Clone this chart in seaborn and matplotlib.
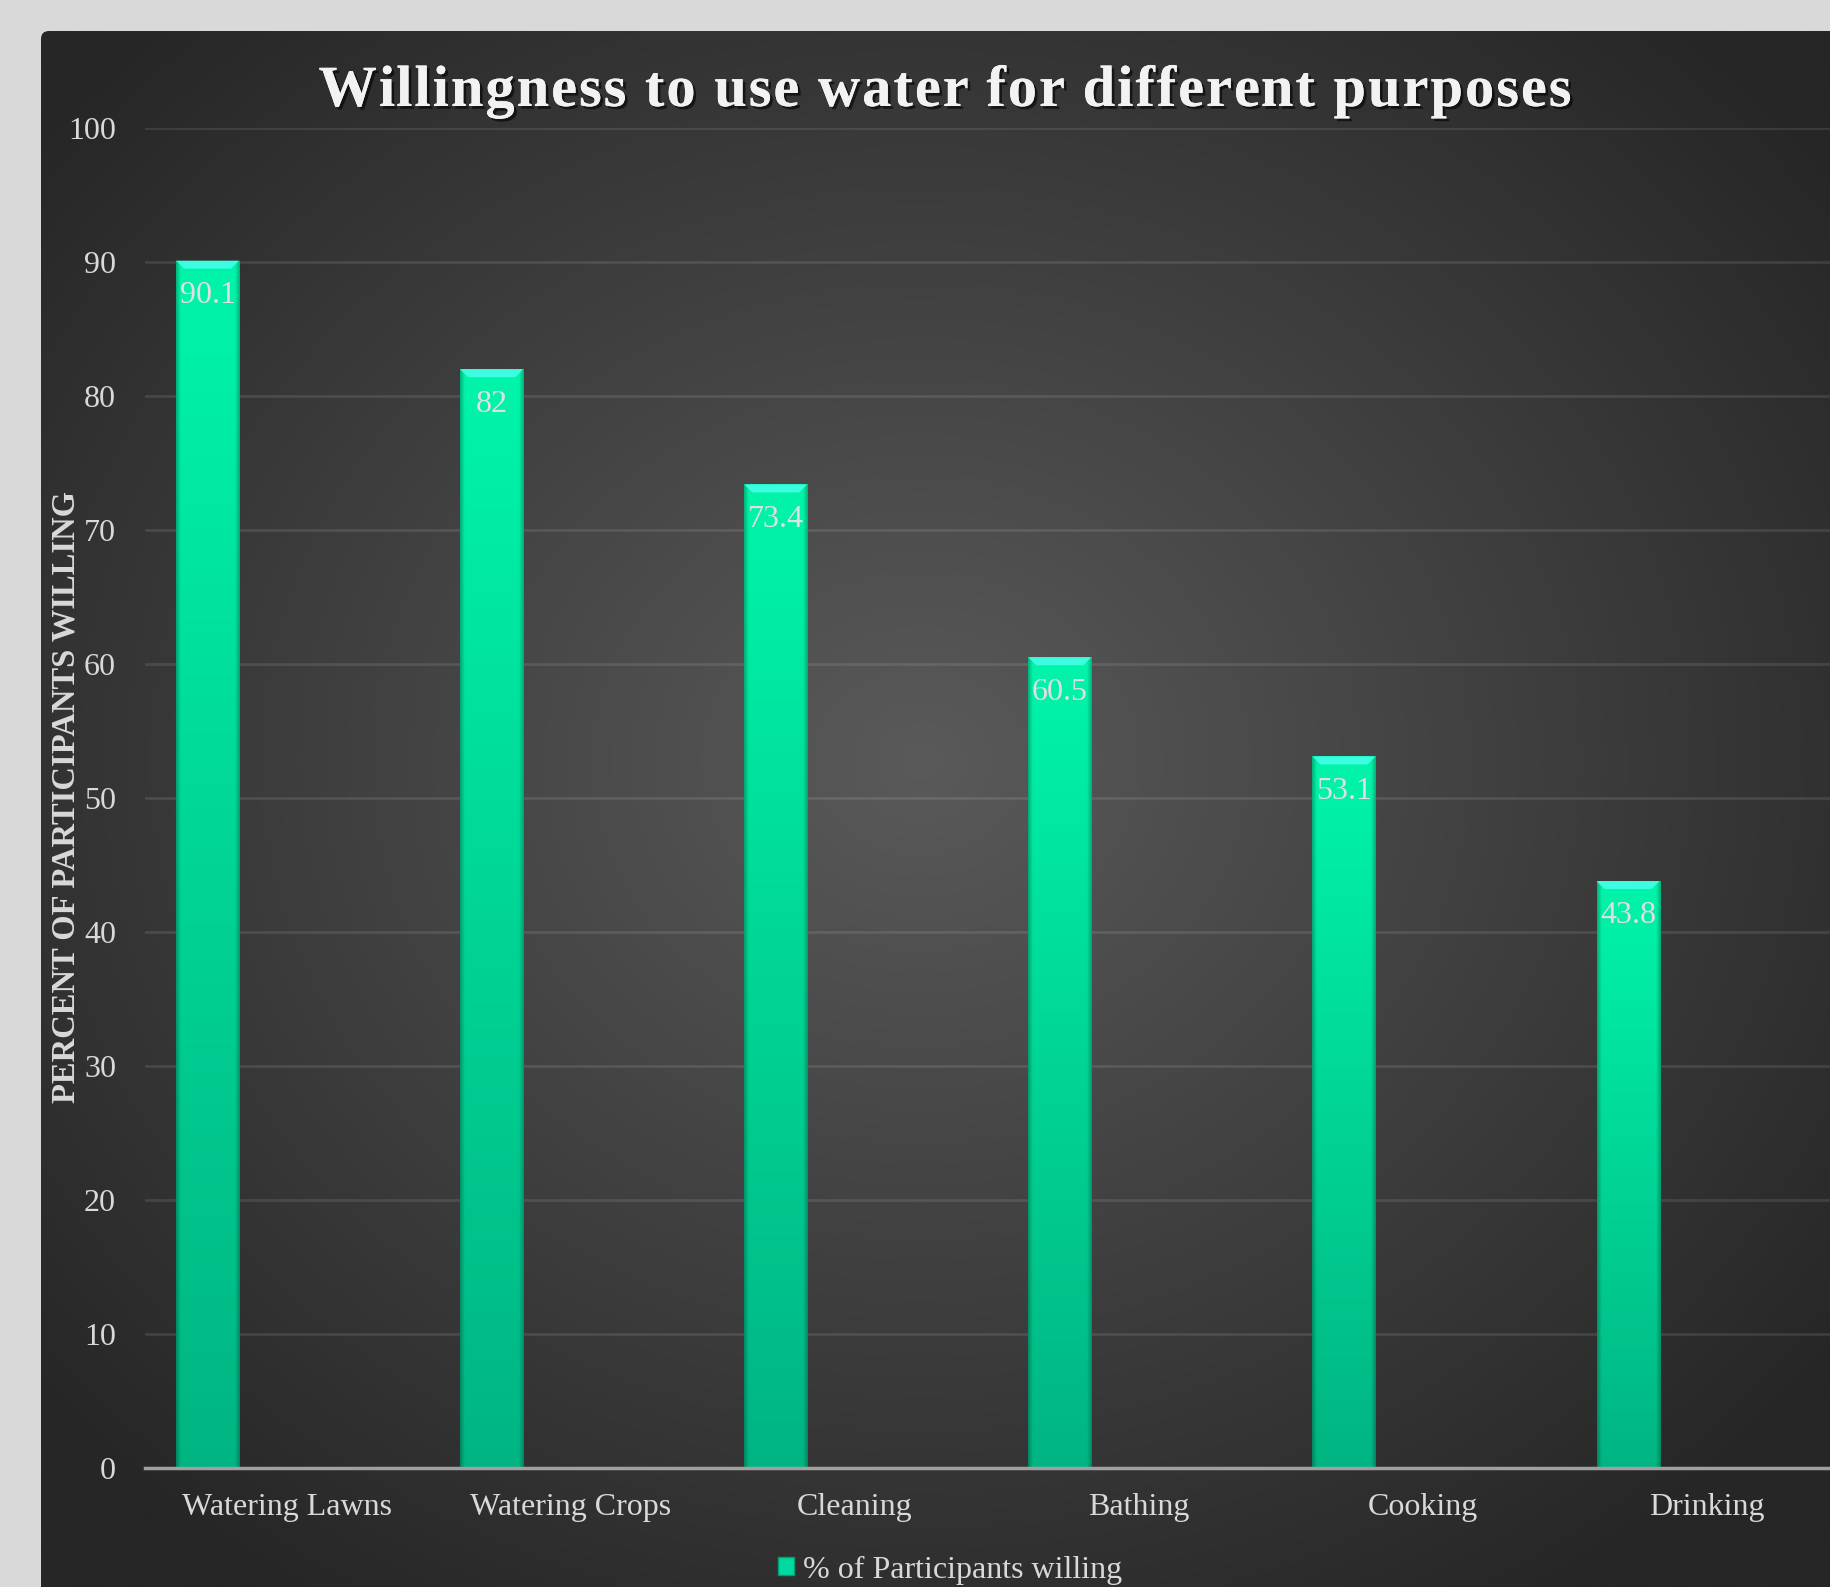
import numpy as np
import pandas as pd
import matplotlib
matplotlib.use('Agg')
import matplotlib.pyplot as plt
import seaborn as sns
from matplotlib.patches import FancyBboxPatch, Polygon, Rectangle
from matplotlib.font_manager import FontProperties
import matplotlib.patheffects as pe

# data
purposes = ['Watering Lawns', 'Watering Crops', 'Cleaning', 'Bathing', 'Cooking', 'Drinking']
willing = [90.1, 82, 73.4, 60.5, 53.1, 43.8]
value_labels = ['90.1', '82', '73.4', '60.5', '53.1', '43.8']
series_name = '% of Participants willing'
y_ticks = list(range(0, 101, 10))
title = 'Willingness to use water for different purposes'

df = pd.DataFrame({'purpose': purposes, 'willing': willing})

sns.set_style('dark')
plt.rcParams['font.family'] = ['Liberation Serif', 'DejaVu Serif']

W, H = 1830, 1587
fig = plt.figure(figsize=(W / 100, H / 100), dpi=100, facecolor='#d9d9d9')

# dark chart panel with radial gradient
bg = fig.add_axes([0, 0, 1, 1], zorder=-5)
bg.set_xlim(0, W)
bg.set_ylim(H, 0)
bg.axis('off')
yy, xx = np.mgrid[0:H:4, 0:W:4]
r = np.sqrt(((xx - 920) / 1150.0) ** 2 + ((yy - 760) / 1000.0) ** 2)
r = np.clip(r, 0, 1)
c0, c1 = np.array([0x5a, 0x5a, 0x5a]) / 255, np.array([0x26, 0x26, 0x26]) / 255
img = c0[None, None, :] * (1 - r[..., None]) + c1[None, None, :] * r[..., None]
panel = FancyBboxPatch((41, 31), 2000, 2000, boxstyle='round,pad=0,rounding_size=8',
                       transform=bg.transData, facecolor='none', edgecolor='none')
bg.add_patch(panel)
im = bg.imshow(img, extent=[0, W, H, 0], aspect='auto', interpolation='bilinear')
im.set_clip_path(panel)

# main axes
ax = fig.add_axes([144.5 / W, 119 / H, 1704.6 / W, 1340 / H])
ax.set_facecolor('none')

bar_w = 0.222
shift = -0.278
sns.barplot(data=df, x='purpose', y='willing', ax=ax, width=bar_w, color='#00e0a0',
            saturation=1, zorder=3, legend=False)

ax.set_xlim(-0.5, len(purposes) - 0.5)
ax.set_ylim(0, 100)

# vertical gradient for bars
grad_y = np.linspace(0, 1, 256)[:, None]
top_c = np.array([0x00, 0xf5, 0xaa]) / 255
bot_c = np.array([0x00, 0xb5, 0x82]) / 255
gx = np.linspace(0, 1, 64)[None, :]
edge = 1 - 0.25 * (np.clip(1 - np.minimum(gx, 1 - gx) / 0.07, 0, 1))
bar_img = (top_c[None, None, :] * (1 - grad_y[..., None]) + bot_c[None, None, :] * grad_y[..., None])
bar_img = bar_img * edge[..., None]

bev_y = 8 / 13.4
bev_x = 8 / 284.0
for p, v, lab in zip(ax.patches, willing, value_labels):
    p.set_x(p.get_x() + shift)
    x0, w = p.get_x(), p.get_width()
    p.set_facecolor('none')
    p.set_edgecolor('none')
    bi = ax.imshow(bar_img, extent=[x0, x0 + w, 0, v], aspect='auto', zorder=3,
                   interpolation='bilinear')
    bi.set_clip_path(p)
    # top bevel
    ax.add_patch(Polygon([[x0, v], [x0 + w, v], [x0 + w - bev_x, v - bev_y], [x0 + bev_x, v - bev_y]],
                         closed=True, facecolor='#3dfde0', edgecolor='none', zorder=4))
    ax.text(x0 + w / 2, v - 2.6, lab, ha='center', va='center', fontsize=23,
            color='#e0e0e0', zorder=5)

ax.set_yticks(y_ticks)
ax.set_yticklabels([str(t) for t in y_ticks])
ax.tick_params(axis='y', length=0, pad=20.5, labelsize=23, labelcolor='#d9d9d9')
ax.tick_params(axis='x', length=0, pad=18, labelsize=23, labelcolor='#d9d9d9')
ax.grid(axis='y', color='#ffffff', alpha=0.1, linewidth=2, zorder=0)
ax.grid(axis='x', visible=False)
for s in ['top', 'right', 'left']:
    ax.spines[s].set_visible(False)
ax.spines['bottom'].set_color('#a0a0a0')
ax.spines['bottom'].set_linewidth(2.5)
ax.spines['bottom'].set_zorder(6)

ax.set_xlabel('')
ax.set_ylabel('')

fig.text(66 / W, 1 - 797 / H, 'PERCENT OF PARTICIPANTS WILLING', rotation=90,
         ha='center', va='center', fontsize=23.5, fontweight='bold', color='#d9d9d9')

# title with letter spacing, drawn char by char
fp = FontProperties(family='Liberation Serif', weight='bold', size=42)
renderer = fig.canvas.get_renderer()


def text_w(s):
    w, _, _ = renderer.get_text_width_height_descent(s, fp, ismath=False)
    return w


spacing = 2.0
bar_ref = text_w('|')
offsets = [text_w(title[:i] + '|') - bar_ref if i else 0 for i in range(len(title))]
total = text_w(title) + spacing * (len(title) - 1)
x_start = 945 - total / 2
shadow = [pe.withSimplePatchShadow(offset=(2, -2), shadow_rgbFace='black', alpha=0.6), pe.Normal()]
for i, ch in enumerate(title):
    if ch == ' ':
        continue
    fig.text((x_start + offsets[i] + i * spacing) / W, 1 - 106 / H, ch, ha='left', va='baseline',
             fontproperties=fp, color='#f2f2f2', path_effects=shadow)

handle = Rectangle((0, 0), 1, 1, facecolor='#00d9a0', edgecolor='#00a070')
leg = fig.legend([handle], [series_name], loc='center', bbox_to_anchor=(950 / W, 1 - 1570 / H),
                 frameon=False, fontsize=23, labelcolor='#d9d9d9', handlelength=0.5,
                 handleheight=0.5, handletextpad=0.3)

fig.savefig('out.png', dpi=100, facecolor=fig.get_facecolor())
